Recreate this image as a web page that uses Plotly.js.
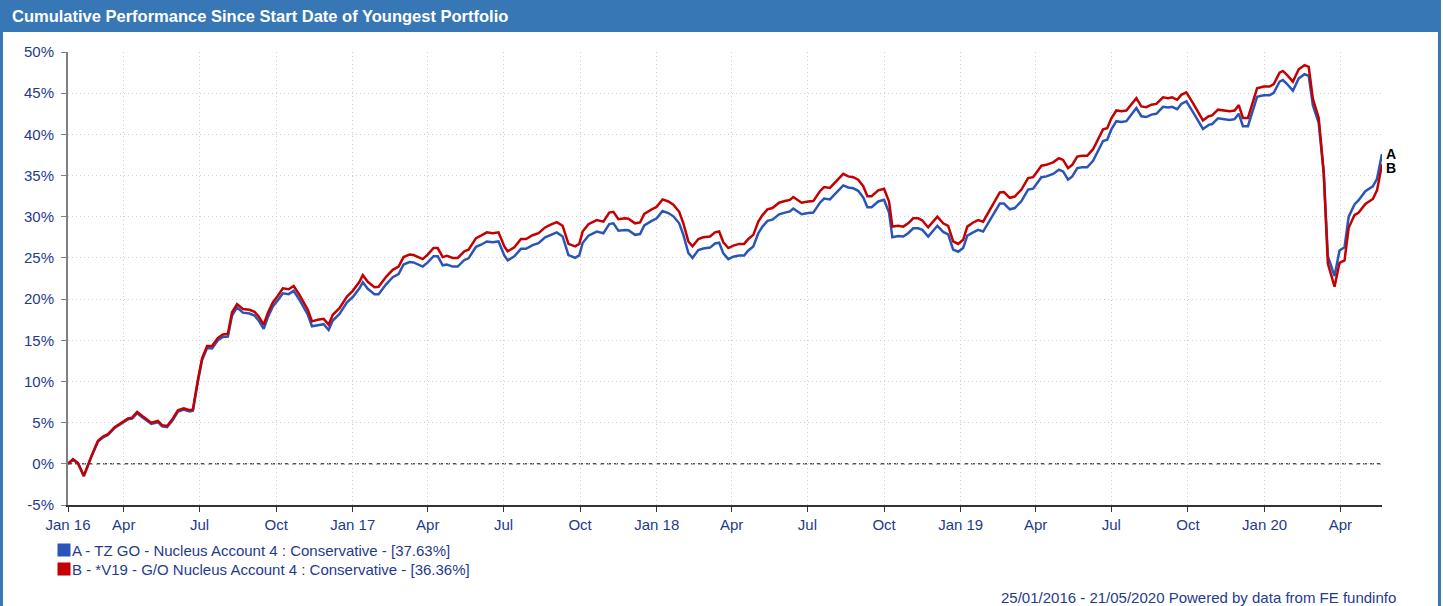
<!DOCTYPE html>
<html>
<head>
<meta charset="utf-8">
<script src="https://cdn.plot.ly/plotly-3.0.1.min.js"></script>
<style>
  html, body { margin: 0; padding: 0; background: #ffffff; }
  #chart { width: 1443px; height: 606px; }
</style>
</head>
<body>
<div id="chart"></div>
<script>
// ---- Data (cumulative performance, %) ----
const dates = [
  "2016-01-25","2016-01-31","2016-02-06","2016-02-13","2016-02-22","2016-03-01","2016-03-07","2016-03-13","2016-03-21","2016-03-29",
  "2016-04-06","2016-04-11","2016-04-17","2016-04-24","2016-05-04","2016-05-12","2016-05-17","2016-05-23","2016-05-30","2016-06-05",
  "2016-06-12","2016-06-19","2016-06-23","2016-06-29","2016-07-04","2016-07-10","2016-07-16","2016-07-23","2016-07-29","2016-08-04",
  "2016-08-09","2016-08-15","2016-08-22","2016-08-30","2016-09-05","2016-09-10","2016-09-16","2016-09-21","2016-09-27","2016-10-03",
  "2016-10-09","2016-10-16","2016-10-22","2016-10-29","2016-11-08","2016-11-13","2016-11-20","2016-11-27","2016-12-03","2016-12-08",
  "2016-12-16","2016-12-25","2017-01-01","2017-01-09","2017-01-13","2017-01-19","2017-01-27","2017-02-01","2017-02-10","2017-02-18",
  "2017-02-25","2017-03-03","2017-03-10","2017-03-15","2017-03-26","2017-04-01","2017-04-08","2017-04-13","2017-04-19","2017-04-24",
  "2017-05-01","2017-05-07","2017-05-15","2017-05-20","2017-05-29","2017-06-04","2017-06-11","2017-06-18","2017-06-25","2017-07-02",
  "2017-07-06","2017-07-14","2017-07-22","2017-07-28","2017-08-05","2017-08-12","2017-08-20","2017-08-26","2017-09-03","2017-09-10",
  "2017-09-17","2017-09-25","2017-09-30","2017-10-04","2017-10-11","2017-10-21","2017-10-29","2017-11-05","2017-11-10","2017-11-16",
  "2017-11-24","2017-11-28","2017-12-06","2017-12-12","2017-12-17","2017-12-26","2018-01-01","2018-01-08","2018-01-15","2018-01-21",
  "2018-01-28","2018-02-02","2018-02-08","2018-02-13","2018-02-20","2018-02-26","2018-03-06","2018-03-12","2018-03-17","2018-03-22",
  "2018-03-28","2018-04-03","2018-04-10","2018-04-16","2018-04-21","2018-04-27","2018-05-03","2018-05-08","2018-05-14","2018-05-20",
  "2018-05-28","2018-06-04","2018-06-10","2018-06-14","2018-06-24","2018-07-02","2018-07-08","2018-07-16","2018-07-21","2018-07-28",
  "2018-08-05","2018-08-13","2018-08-19","2018-08-25","2018-08-31","2018-09-06","2018-09-11","2018-09-16","2018-09-24","2018-10-01",
  "2018-10-07","2018-10-11","2018-10-18","2018-10-24","2018-10-30","2018-11-05","2018-11-11","2018-11-16","2018-11-23","2018-11-28",
  "2018-12-04","2018-12-11","2018-12-17","2018-12-23","2018-12-29","2019-01-04","2019-01-09","2019-01-16","2019-01-22","2019-01-28",
  "2019-02-05","2019-02-17","2019-02-22","2019-03-01","2019-03-07","2019-03-15","2019-03-23","2019-03-29","2019-04-08","2019-04-14",
  "2019-04-22","2019-04-29","2019-05-04","2019-05-10","2019-05-15","2019-05-21","2019-05-27","2019-06-02","2019-06-09","2019-06-15",
  "2019-06-21","2019-06-26","2019-07-01","2019-07-07","2019-07-13","2019-07-19","2019-07-25","2019-07-31","2019-08-06","2019-08-12",
  "2019-08-18","2019-08-24","2019-09-01","2019-09-07","2019-09-12","2019-09-18","2019-09-23","2019-09-29","2019-10-07","2019-10-19",
  "2019-10-26","2019-10-30","2019-11-06","2019-11-13","2019-11-20","2019-11-26","2019-12-01","2019-12-06","2019-12-12","2019-12-23",
  "2019-12-31","2020-01-07","2020-01-12","2020-01-19","2020-01-23","2020-01-29","2020-02-04","2020-02-11","2020-02-18","2020-02-23",
  "2020-02-28","2020-03-06","2020-03-12","2020-03-17","2020-03-25","2020-03-31","2020-04-06","2020-04-11","2020-04-18","2020-04-23",
  "2020-05-01","2020-05-10","2020-05-15","2020-05-21"
];

// A - TZ GO - Nucleus Account 4 : Conservative (blue)
const seriesA = [
  0.0, 0.5, 0.05, -1.5, 0.85, 2.7, 3.2, 3.5, 4.35, 4.9,
  5.4, 5.5, 6.15, 5.6, 4.85, 5.05, 4.55, 4.45, 5.35, 6.35,
  6.6, 6.35, 6.45, 10.0, 12.6, 14.05, 14.0, 15.0, 15.4, 15.45,
  18.0, 19.0, 18.35, 18.25, 18.0, 17.4, 16.4, 17.8, 19.1, 19.85,
  20.7, 20.6, 21.0, 19.9, 18.1, 16.7, 16.85, 16.95, 16.25, 17.4,
  18.2, 19.6, 20.25, 21.3, 22.05, 21.25, 20.6, 20.6, 21.8, 22.65,
  23.05, 24.2, 24.5, 24.45, 23.95, 24.45, 25.2, 25.2, 24.1, 24.2,
  23.95, 23.95, 24.75, 24.95, 26.35, 26.6, 27.0, 26.9, 27.0, 25.3,
  24.7, 25.2, 26.1, 26.1, 26.55, 26.8, 27.5, 27.8, 28.1, 27.6,
  25.35, 25.0, 25.3, 26.8, 27.7, 28.2, 28.0, 29.1, 29.2, 28.3,
  28.4, 28.35, 27.8, 27.9, 28.95, 29.5, 29.8, 30.7, 30.45, 30.05,
  29.2, 27.8, 25.6, 25.0, 25.95, 26.15, 26.25, 26.75, 26.85, 25.55,
  24.85, 25.15, 25.3, 25.3, 25.9, 26.4, 28.0, 28.8, 29.5, 29.65,
  30.3, 30.5, 30.65, 31.0, 30.3, 30.45, 30.5, 31.7, 32.2, 32.1,
  32.9, 33.8, 33.55, 33.45, 33.15, 32.35, 31.15, 31.15, 31.85, 32.05,
  30.5, 27.5, 27.65, 27.6, 28.0, 28.6, 28.6, 28.4, 27.6, 28.2,
  28.9, 28.15, 27.85, 26.0, 25.75, 26.2, 27.7, 28.1, 28.4, 28.2,
  29.5, 31.6, 31.6, 30.9, 31.05, 31.9, 33.3, 33.4, 34.8, 34.9,
  35.2, 35.7, 35.5, 34.5, 34.9, 35.9, 36.0, 36.0, 36.8, 38.1,
  39.2, 39.35, 40.6, 41.6, 41.5, 41.6, 42.35, 43.2, 42.2, 42.1,
  42.4, 42.5, 43.35, 43.25, 43.35, 43.05, 43.7, 44.0, 42.7, 40.65,
  41.15, 41.25, 41.95, 41.85, 41.75, 41.85, 42.5, 41.0, 41.0, 44.55,
  44.75, 44.75, 45.05, 46.4, 46.6, 46.0, 45.3, 46.8, 47.3, 47.1,
  43.5, 41.4, 35.3, 25.2, 22.8, 25.9, 26.3, 30.0, 31.5, 32.0,
  33.1, 33.7, 34.6, 37.63
];

// B - *V19 - G/O Nucleus Account 4 : Conservative (red)
const seriesB = [
  0.0, 0.57, 0.1, -1.46, 0.9, 2.8, 3.3, 3.6, 4.45, 5.0,
  5.5, 5.6, 6.3, 5.75, 5.0, 5.2, 4.7, 4.6, 5.5, 6.5,
  6.75, 6.5, 6.6, 10.2, 12.8, 14.3, 14.3, 15.3, 15.7, 15.8,
  18.4, 19.4, 18.8, 18.7, 18.45, 17.9, 16.9, 18.3, 19.6, 20.4,
  21.3, 21.2, 21.6, 20.5, 18.7, 17.3, 17.5, 17.6, 16.9, 18.1,
  18.9, 20.3, 21.0, 22.1, 22.9, 22.1, 21.45, 21.5, 22.7, 23.55,
  23.95, 25.1, 25.4, 25.35, 24.85, 25.4, 26.2, 26.2, 25.1, 25.25,
  25.0, 25.0, 25.8, 26.0, 27.4, 27.7, 28.1, 28.0, 28.1, 26.4,
  25.8, 26.3, 27.3, 27.3, 27.75, 28.0, 28.7, 29.0, 29.35, 28.9,
  26.7, 26.4, 26.7, 28.2, 29.1, 29.6, 29.4, 30.5, 30.6, 29.7,
  29.8, 29.75, 29.2, 29.3, 30.35, 30.9, 31.2, 32.1, 31.85, 31.45,
  30.6, 29.2, 27.0, 26.4, 27.3, 27.5, 27.6, 28.1, 28.2, 26.9,
  26.2, 26.5, 26.7, 26.7, 27.3, 27.8, 29.4, 30.2, 30.9, 31.05,
  31.7, 31.9, 32.05, 32.4, 31.7, 31.85, 31.9, 33.1, 33.6, 33.5,
  34.3, 35.2, 34.9, 34.8, 34.5, 33.7, 32.5, 32.5, 33.2, 33.4,
  31.85, 28.8, 28.9, 28.8, 29.2, 29.8, 29.8, 29.55, 28.7, 29.3,
  30.0, 29.2, 28.9, 27.0, 26.7, 27.2, 28.8, 29.3, 29.6, 29.4,
  30.8, 32.95, 33.0, 32.3, 32.45, 33.3, 34.7, 34.8, 36.2, 36.3,
  36.6, 37.1, 36.9, 35.9, 36.3, 37.3, 37.4, 37.4, 38.2, 39.5,
  40.6, 40.75, 41.95, 42.9, 42.8, 42.9, 43.6, 44.4, 43.4, 43.3,
  43.6, 43.7, 44.5, 44.4, 44.5, 44.2, 44.8, 45.1, 43.8, 41.7,
  42.2, 42.3, 43.0, 42.9, 42.8, 42.9, 43.55, 42.0, 42.0, 45.6,
  45.8, 45.8, 46.1, 47.5, 47.7, 47.1, 46.4, 47.9, 48.4, 48.2,
  44.3, 42.0, 35.45, 24.3, 21.5, 24.4, 24.7, 28.65, 30.2, 30.5,
  31.55, 32.15, 33.2, 36.36
];

const nameA = "A - TZ GO - Nucleus Account 4 : Conservative - [37.63%]";
const nameB = "B - *V19 - G/O Nucleus Account 4 : Conservative - [36.36%]";
const tickDates = ["2016-01-25","2016-04-01","2016-07-01","2016-10-01","2017-01-01","2017-04-01","2017-07-01","2017-10-01",
                   "2018-01-01","2018-04-01","2018-07-01","2018-10-01","2019-01-01","2019-04-01","2019-07-01","2019-10-01",
                   "2020-01-01","2020-04-01"];
const tickLabels = ["Jan 16","Apr","Jul","Oct","Jan 17","Apr","Jul","Oct",
                    "Jan 18","Apr","Jul","Oct","Jan 19","Apr","Jul","Oct",
                    "Jan 20","Apr"];
const yTicks = [-5,0,5,10,15,20,25,30,35,40,45,50];

// ---- Styling ----
const BLUE = "#2a55b8";
const RED = "#c40000";
const FRAME = "#3777b5";
const TEXT = "#1f3b8c";
const FONT = "Arial, 'Liberation Sans', sans-serif";
const FS = 15;

// plot area in pixels: left 68, right 1382, top 52, bottom 505
const L = 68, R = 1382, T = 52, B = 505, W = 1443, H = 606;
const px = v => (v - L) / (R - L);
const py = v => (B - v) / (B - T);

const lastIdx = dates.length - 1;

const traces = [
  { x: dates, y: seriesA, type: "scatter", mode: "lines", name: nameA,
    line: { color: BLUE, width: 2.5 }, showlegend: false, hoverinfo: "x+y" },
  { x: dates, y: seriesB, type: "scatter", mode: "lines", name: nameB,
    line: { color: RED, width: 2.5 }, showlegend: false, hoverinfo: "x+y" }
];

// legend rows (swatch + label) drawn as annotations
const legendRows = [
  { name: nameA, color: BLUE, y: 550 },
  { name: nameB, color: RED, y: 569 }
];
const legendAnnots = [];
legendRows.forEach(r => {
  legendAnnots.push({ x: px(57), y: py(r.y), xref: "paper", yref: "paper", text: "&nbsp;",
    showarrow: false, xanchor: "left", yanchor: "middle", width: 12, height: 12,
    bgcolor: r.color, borderpad: 0, font: { size: 2 } });
  legendAnnots.push({ x: px(71), y: py(r.y), xref: "paper", yref: "paper", text: r.name,
    showarrow: false, xanchor: "left", yanchor: "middle", borderpad: 0,
    font: { family: FONT, size: FS, color: TEXT } });
});

const layout = {
  width: W, height: H,
  margin: { l: L, r: W - R, t: T, b: H - B, pad: 0 },
  paper_bgcolor: "#ffffff", plot_bgcolor: "#ffffff",
  font: { family: FONT, size: FS, color: TEXT },
  showlegend: false,
  title: {
    text: "<b>Cumulative Performance Since Start Date of Youngest Portfolio</b>",
    font: { family: FONT, size: 16.5, color: "#ffffff" },
    xref: "container", yref: "container",
    x: 12 / W, xanchor: "left", y: 1 - 16 / H, yanchor: "middle"
  },
  xaxis: {
    type: "date",
    range: [dates[0], dates[lastIdx]],
    tickmode: "array", tickvals: tickDates, ticktext: tickLabels,
    showline: true, linecolor: "#333333", linewidth: 1.5,
    ticks: "outside", ticklen: 5, tickcolor: "#333333", tickwidth: 1,
    showgrid: true, gridcolor: "#cfcfcf", griddash: "1px,3px", gridwidth: 1,
    zeroline: false,
    tickfont: { family: FONT, size: FS, color: TEXT },
    fixedrange: true
  },
  yaxis: {
    range: [-5, 50],
    tickmode: "array", tickvals: yTicks, ticktext: yTicks.map(v => v + "%"),
    showline: true, linecolor: "#808080", linewidth: 2,
    ticks: "outside", ticklen: 5, tickcolor: "#808080", tickwidth: 1,
    ticklabelstandoff: 4,
    showgrid: true, gridcolor: "#cfcfcf", griddash: "1px,3px", gridwidth: 1,
    zeroline: false,
    tickfont: { family: FONT, size: FS, color: TEXT },
    fixedrange: true
  },
  shapes: [
    // title bar and frame
    { type: "rect", xref: "paper", yref: "paper", x0: px(0), x1: px(1441), y0: py(32), y1: py(0),
      fillcolor: FRAME, line: { width: 0 }, layer: "below" },
    { type: "rect", xref: "paper", yref: "paper", x0: px(0), x1: px(3), y0: py(606), y1: py(0),
      fillcolor: FRAME, line: { width: 0 }, layer: "below" },
    { type: "rect", xref: "paper", yref: "paper", x0: px(1438), x1: px(1441), y0: py(606), y1: py(0),
      fillcolor: FRAME, line: { width: 0 }, layer: "below" },
    // dashed zero line
    { type: "line", xref: "paper", yref: "y", x0: 0, x1: 1, y0: 0, y1: 0,
      line: { color: "#000000", width: 1, dash: "4px,3px" }, layer: "between" }
  ],
  annotations: [
    { x: dates[lastIdx], y: seriesA[lastIdx], xref: "x", yref: "y", text: "<b>A</b>",
      showarrow: false, xanchor: "left", yanchor: "middle", xshift: 2, yshift: 0,
      font: { family: FONT, size: 14, color: "#000000" } },
    { x: dates[lastIdx], y: seriesB[lastIdx], xref: "x", yref: "y", text: "<b>B</b>",
      showarrow: false, xanchor: "left", yanchor: "middle", xshift: 2, yshift: -4,
      font: { family: FONT, size: 14, color: "#000000" } },
    { x: px(1397), y: py(597), xref: "paper", yref: "paper",
      text: "25/01/2016 - 21/05/2020 Powered by data from FE fundinfo",
      showarrow: false, xanchor: "right", yanchor: "middle", borderpad: 0,
      font: { family: FONT, size: FS, color: TEXT } }
  ].concat(legendAnnots)
};

Plotly.newPlot("chart", traces, layout, { displayModeBar: false, responsive: false });
</script>
</body>
</html>
